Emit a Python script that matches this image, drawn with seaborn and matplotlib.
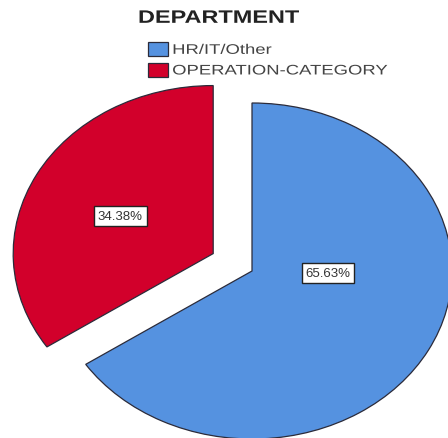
import matplotlib
matplotlib.use("Agg")
import matplotlib.pyplot as plt
from matplotlib.patches import Patch
from matplotlib.patheffects import AbstractPathEffect
from matplotlib.transforms import Affine2D
import seaborn as sns

# Share of employees by department
categories = ["HR/IT/Other", "OPERATION-CATEGORY"]
percentages = [65.63, 34.38]
explode = [0.0, 0.22]
title = "DEPARTMENT"


class StretchX(AbstractPathEffect):
    """Widen glyphs horizontally, anchored at the text's left edge."""

    def __init__(self, sx):
        super().__init__()
        self.sx = sx

    def draw_path(self, renderer, gc, tpath, affine, rgbFace=None):
        x0 = affine.get_matrix()[0, 2]
        widen = Affine2D().translate(-x0, 0).scale(self.sx, 1).translate(x0, 0)
        renderer.draw_path(gc, tpath, affine + widen, rgbFace)


sns.set_theme(style="white")
plt.rcParams["font.family"] = ["Liberation Sans", "DejaVu Sans"]
colors = ["#5592E0", "#D2002B"]
edge = "#2b2b3a"

fig = plt.figure(figsize=(4.48, 4.39), dpi=100)
ax = fig.add_axes([0, 0, 1, 1])

wedges, _ = ax.pie(
    percentages,
    explode=explode,
    colors=colors,
    startangle=90,
    counterclock=False,
    wedgeprops=dict(edgecolor=edge, linewidth=0.9),
)
# let the pie follow the axes' shape (drawn as a wide ellipse)
ax.set_aspect("auto")
ax.set_xlim(-1.26, 0.98)
ax.set_ylim(-0.994, 1.619)
ax.axis("off")

# value labels in boxes, placed relative to each wedge's centre
label_offsets = [(0.38, -0.01), (-0.465, 0.225)]
for w, pct, (dx, dy) in zip(wedges, percentages, label_offsets):
    cx, cy = w.center
    ax.text(cx + dx, cy + dy, f"{pct:.2f}%", ha="center", va="center",
            fontsize=9.5, color="#333333",
            bbox=dict(boxstyle="square,pad=0.3", facecolor="white",
                      edgecolor="#222222", linewidth=1.0))

t = fig.text(0.308, 0.956, title, ha="left", va="center",
             fontsize=13, fontweight="bold", color="#222222")
t.set_path_effects([StretchX(1.30)])

handles = [Patch(facecolor=c, edgecolor=edge, linewidth=0.9) for c in colors]
leg = fig.legend(handles, categories, loc="upper left",
                 bbox_to_anchor=(0.330, 0.902),
                 frameon=False, fontsize=10, handlelength=1.45,
                 handleheight=1.2, handletextpad=0.3, labelspacing=0.42,
                 borderpad=0, borderaxespad=0, labelcolor="#444444")
for txt in leg.get_texts():
    txt.set_path_effects([StretchX(1.33)])

fig.savefig("out.png", dpi=100)
